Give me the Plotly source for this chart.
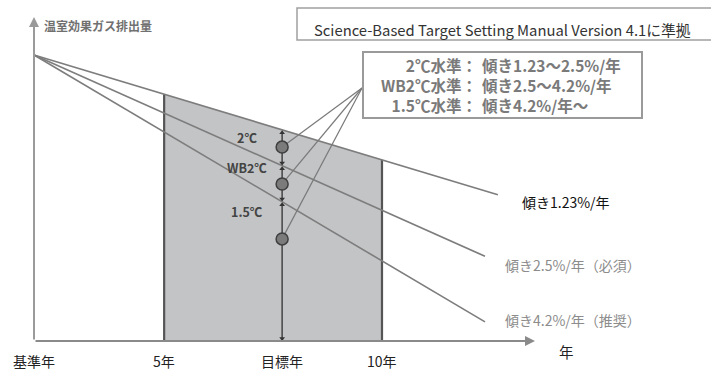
import numpy as np
import plotly.graph_objects as go

# --- schematic data (time in relative units: base year = 0, 10th year = 100;
#     emissions as an index: base year = 100) ---
base_level = 100.0
tick_labels = ["基準年", "5年", "目標年", "10年"]
tick_times = [0.0, 37.4, 71.3, 100.0]

path_names = ["傾き1.23%/年", "傾き2.5%/年（必須）", "傾き4.2%/年（推奨）"]
path_end_time = [133.3, 129.6, 129.6]
path_end_level = [51.1, 29.6, 6.7]

scenario_names = ["2℃", "WB2℃", "1.5℃"]
scenario_points = [67.8, 54.9, 35.7]          # example targets at the target year

legend_levels = ["2℃水準：", "WB2℃水準：", "1.5℃水準："]
legend_slopes = ["傾き1.23～2.5%/年", "傾き2.5～4.2%/年", "傾き4.2%/年～"]

W, H = 711, 372
# linear pixel <-> data frame for the axes
X0_PX, XU = 34.0, 3.48
Y0_PX, YU = 341.0, 2.86
def X(px): return (px - X0_PX) / XU
def Y(py): return (Y0_PX - py) / YU

FONT = "Noto Sans CJK JP"
fig = go.Figure()

def level_at(i, t):
    return base_level + (path_end_level[i] - base_level) * t / path_end_time[i]

t5, t_target, t10 = tick_times[1], tick_times[2], tick_times[3]

# shaded target window between year 5 and year 10, topped by the 1.23% path
top5, top10 = level_at(0, t5), level_at(0, t10)
fig.add_trace(go.Scatter(x=[t5, t5, t10, t10, t5], y=[0, top5, top10, 0, 0],
                         fill="toself", fillcolor="#c3c4c6", mode="none",
                         hoverinfo="skip"))
for t, top in [(t5, top5), (t10, top10)]:
    fig.add_trace(go.Scatter(x=[t, t], y=[0, top], mode="lines",
                             line=dict(color="#555555", width=2.2), hoverinfo="skip"))

# reduction paths from the base year
for i in range(3):
    fig.add_trace(go.Scatter(x=[0, path_end_time[i]], y=[base_level, path_end_level[i]],
                             mode="lines", line=dict(color="#7d7d7d", width=1.6),
                             hoverinfo="skip"))

# target-year ranges with arrows
bounds = [level_at(0, t_target), level_at(1, t_target), level_at(2, t_target), 0.0]
gap = 1.0
for k in range(3):
    hi, lo = bounds[k] - gap, bounds[k + 1] + gap
    if k == 2:
        lo = 0.9
    fig.add_trace(go.Scatter(x=[t_target, t_target], y=[lo, hi], mode="lines",
                             line=dict(color="#444444", width=1.5), hoverinfo="skip"))
    fig.add_trace(go.Scatter(x=[t_target, t_target], y=[hi, lo], mode="markers",
                             marker=dict(symbol=["triangle-up", "triangle-down"], size=5,
                                         color="#333333"), hoverinfo="skip"))
    fig.add_annotation(x=X(247), y=[Y(137), Y(167), Y(211)][k], text=scenario_names[k],
                       showarrow=False, xanchor="center", yanchor="middle",
                       font=dict(family=FONT, size=12.5, color="#444444", weight="bold"))

# callout leaders from the legend box to each target point
hub_x, hub_y = X(362), Y(88)
for v in scenario_points:
    fig.add_trace(go.Scatter(x=[hub_x, t_target], y=[hub_y, v], mode="lines",
                             line=dict(color="#7a7a7a", width=1.2), hoverinfo="skip"))
fig.add_trace(go.Scatter(x=[t_target] * 3, y=scenario_points, mode="markers",
                         marker=dict(size=12, color="#7b7b7b",
                                     line=dict(color="#3f3f3f", width=1.5)),
                         hoverinfo="skip"))

# axes with arrowheads
fig.add_annotation(x=0, y=Y(17), ax=0, ay=0, xref="x", yref="y", axref="x", ayref="y",
                   text="", showarrow=True, arrowhead=2, arrowsize=1, arrowwidth=2,
                   arrowcolor="#9a9a9a")
fig.add_annotation(x=X(535), y=0, ax=0, ay=0, xref="x", yref="y", axref="x", ayref="y",
                   text="", showarrow=True, arrowhead=2, arrowsize=1, arrowwidth=2,
                   arrowcolor="#8a8a8a")

fig.add_annotation(x=X(42), y=Y(25), text="温室効果ガス排出量", showarrow=False,
                   xanchor="left", yanchor="middle",
                   font=dict(family=FONT, size=12, color="#707070", weight="bold"))

# time tick labels
for t, lab in zip(tick_times, tick_labels):
    fig.add_annotation(x=t, y=Y(361), text=lab, showarrow=False, xanchor="center",
                       yanchor="middle", borderpad=0,
                       font=dict(family=FONT, size=14, color="#222222"))
fig.add_annotation(x=X(566), y=Y(351), text="年", showarrow=False, xanchor="center",
                   yanchor="middle", font=dict(family=FONT, size=14.5, color="#222222"))

# path labels at the right
label_pos = [(520, 202, "#111111"), (503, 265, "#8c8c8c"), (503, 320, "#8c8c8c")]
for name, (px, py, col) in zip(path_names, label_pos):
    fig.add_annotation(x=X(px), y=Y(py), text=name, showarrow=False, xanchor="left",
                       yanchor="middle", font=dict(family=FONT, size=14, color=col))

# header box
fig.add_shape(type="rect", x0=X(297), x1=X(716), y0=Y(8), y1=Y(40),
              line=dict(color="#a0a0a0", width=1.5), fillcolor="white", layer="above")
fig.add_annotation(x=X(312), y=Y(29), text="Science-Based Target Setting Manual Version 4.1に準拠",
                   showarrow=False, xanchor="left", yanchor="middle",
                   font=dict(family=FONT, size=14.8, color="#333333"))

# legend box: two text columns meeting at the colon
fig.add_shape(type="rect", x0=X(363), x1=X(642), y0=Y(52), y1=Y(118),
              line=dict(color="#9a9a9a", width=2), fillcolor="white", layer="above")
legend_font = dict(family=FONT, size=15.5, color="#7a7a7a", weight="bold")
fig.add_annotation(x=X(478), y=Y(85), text="<br>".join(legend_levels), showarrow=False,
                   xanchor="right", yanchor="middle", align="right", borderpad=0,
                   font=legend_font)
fig.add_annotation(x=X(481), y=Y(85), text="<br>".join(legend_slopes), showarrow=False,
                   xanchor="left", yanchor="middle", align="left", borderpad=0,
                   font=legend_font)

fig.update_layout(width=W, height=H, autosize=False, showlegend=False,
                  margin=dict(l=0, r=0, t=0, b=0),
                  plot_bgcolor="white", paper_bgcolor="white",
                  xaxis=dict(range=[X(0), X(W)], visible=False, fixedrange=True),
                  yaxis=dict(range=[Y(H), Y(0)], visible=False, fixedrange=True))

fig.write_html("out.html", config={"displayModeBar": False})
